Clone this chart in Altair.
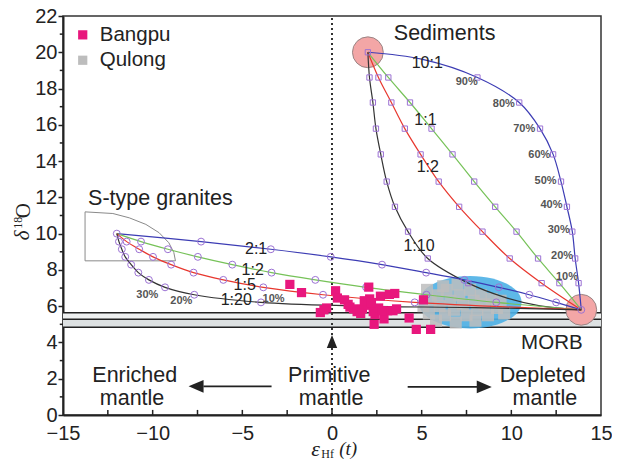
import altair as alt
import pandas as pd

# ---------------- values ----------------
sed_end = [2.0, 20.0]
morb_end = [13.9, 5.8]
sgran_end = [-12.0, 10.0]

# Sediment + MORB mixing (markers every 10 %, from 100 % sediment to 0 %)
sed_y = [20.0, 18.61, 17.23, 15.79, 14.37, 12.87, 11.48, 10.11, 8.63, 7.27, 5.8]
sed_x_10_1 = [2.0, 8.11, 10.44, 11.6, 12.33, 12.77, 13.1, 13.4, 13.56, 13.75, 13.9]
sed_x_1_1 = [2.0, 3.14, 4.35, 5.55, 6.72, 7.93, 9.1, 10.29, 11.49, 12.68, 13.9]
sed_x_1_2 = [2.0, 2.59, 3.31, 4.06, 4.94, 5.95, 7.09, 8.39, 9.91, 11.69, 13.9]
sed_x_1_10 = [2.0, 2.09, 2.28, 2.45, 2.72, 3.05, 3.51, 4.24, 5.34, 7.6, 13.9]

# S-type granite + MORB mixing
sg_y = [10.0, 9.56, 9.14, 8.72, 8.29, 7.85, 7.45, 7.04, 6.63, 6.21, 5.8]
sg_x_2_1 = [-12.0, -7.3, -3.41, -0.07, 2.79, 5.25, 7.38, 9.3, 11.0, 12.5, 13.9]
sg_x_1_2 = [-12.0, -10.65, -9.15, -7.48, -5.56, -3.37, -0.93, 1.9, 5.27, 9.16, 13.9]
sg_x_1_5 = [-12.0, -11.45, -10.75, -9.98, -8.97, -7.72, -6.06, -3.83, -0.5, 4.61, 13.9]
sg_x_1_20 = [-12.0, -11.88, -11.72, -11.53, -11.2, -10.8, -10.21, -9.31, -7.68, -3.96, 13.9]

# extra points read along curves between markers: (step, x, y)
extra_sed_10_1 = [(0.5, 5.0, 19.62)]
extra_sed_1_10 = [(9.35, 9.6, 6.5), (9.7, 11.6, 6.02)]
extra_sg_1_20 = [(9.4, 1.0, 6.02), (9.7, 8.0, 5.92)]

# S-type granite field outline
sfield_x = [-13.77, -13.77, -12.22, -11.3, -10.38, -9.64, -9.1, -8.82, -8.73, -13.77]
sfield_y = [8.5, 11.2, 11.11, 10.87, 10.51, 10.05, 9.5, 8.96, 8.5, 8.5]

# Bangpu samples
bangpu_x = [-2.35, -1.7, -0.65, -0.3, -0.45, 0.2, 0.3, 0.7, 0.9, 1.0, 1.2, 1.4, 1.7, 1.6,
            2.05, 2.1, 2.0, 2.3, 2.4, 2.35, 2.7, 2.6, 2.9, 3.2, 3.5, 3.1, 3.4, 3.6, 2.8,
            4.3, 4.7, 5.1, 5.5, 1.8, 2.2]
bangpu_y = [7.2, 6.75, 5.65, 5.9, 5.8, 6.85, 6.45, 6.35, 6.1, 5.95, 5.85, 5.7, 5.85, 5.6,
            7.05, 6.4, 6.05, 5.7, 5.55, 5.0, 6.55, 5.9, 5.3, 6.65, 6.7, 5.75, 5.75, 5.85, 5.75,
            5.35, 4.72, 6.35, 4.72, 6.3, 6.2]

# Qulong samples (grey cloud over the blue field)
qulong_x = [5.3, 5.5, 5.4, 5.8, 5.9, 6.0, 6.3, 6.4, 6.6, 6.8, 6.9, 7.1, 7.3, 7.5, 7.7,
            7.9, 8.1, 8.3, 8.5, 8.7, 8.9, 9.2, 9.4, 6.2, 7.0, 5.1, 8.0, 9.6]
qulong_y = [6.9, 6.3, 5.6, 5.2, 6.6, 6.0, 5.5, 6.9, 6.3, 5.8, 5.1, 6.6, 6.1, 5.5, 6.9,
            6.3, 5.8, 6.6, 6.1, 5.5, 6.4, 5.9, 6.3, 7.1, 7.2, 6.0, 5.2, 5.6]
qulong_field = [7.7, 6.22]

# MORB band
morb_band = [4.84, 5.28, 5.64]

# labels
sed_ratio_text = ["10:1", "1:1", "1:2", "1:10"]
sed_ratio_x = [5.31, 5.21, 5.34, 4.85]
sed_ratio_y = [19.43, 16.28, 13.69, 9.32]
sg_ratio_text = ["2:1", "1:2", "1:5", "1:20"]
sg_ratio_x = [-4.23, -4.42, -4.87, -5.34]
sg_ratio_y = [9.14, 8.01, 7.17, 6.32]
sed_pct_text = ["90%", "80%", "70%", "60%", "50%", "40%", "30%", "20%", "10%"]
sed_pct_x = [7.51, 9.58, 10.72, 11.56, 11.91, 12.24, 12.64, 12.83, 13.1]
sed_pct_y = [18.38, 17.16, 15.79, 14.33, 12.91, 11.56, 10.2, 8.78, 7.63]
sg_pct_text = ["30%", "20%", "10%"]
sg_pct_x = [-10.3, -8.4, -3.26]
sg_pct_y = [6.59, 6.26, 6.38]
big_text = ["Sediments", "S-type granites", "Enriched", "mantle",
            "Primitive", "mantle", "Depleted", "mantle"]
big_x = [6.28, -9.57, -11.0, -11.15, -0.15, -0.05, 11.75, 11.87]
big_y = [20.98, 11.91, 2.15, 0.89, 2.15, 0.89, 2.15, 0.89]
morb_text = ["MORB"]
morb_text_x = [12.26]
morb_text_y = [3.95]
legend_names = ["Bangpu", "Qulong"]
legend_x = [-13.9, -13.9]
legend_y = [20.96, 19.56]

x_ticks = [-15, -10, -5, 0, 5, 10, 15]
x_minor = [-12.5, -10, -7.5, -5, -2.5, 0, 2.5, 5, 7.5, 10, 12.5]
y_ticks = list(range(0, 23, 2))
y_minor = list(range(1, 22, 2))

# ---------------- build tables ----------------
def curve_df(xs_, ys_, extra=()):
    rows = [dict(x=a, y=b, o=float(i)) for i, (a, b) in enumerate(zip(xs_, ys_))]
    rows += [dict(x=a, y=b, o=s) for (s, a, b) in extra]
    return pd.DataFrame(rows)

BLUE, GREEN, RED, BLACK = "#3c3cb4", "#76c258", "#e8372e", "#333333"
curve_specs = [
    (sed_x_10_1, sed_y, extra_sed_10_1, BLUE),
    (sed_x_1_1, sed_y, (), GREEN),
    (sed_x_1_2, sed_y, (), RED),
    (sed_x_1_10, sed_y, extra_sed_1_10, BLACK),
    (sg_x_2_1, sg_y, (), BLUE),
    (sg_x_1_2, sg_y, (), GREEN),
    (sg_x_1_5, sg_y, (), RED),
    (sg_x_1_20, sg_y, extra_sg_1_20, BLACK),
]

sq_markers = pd.DataFrame(
    [dict(x=a, y=b) for xs_ in (sed_x_10_1, sed_x_1_1, sed_x_1_2, sed_x_1_10)
     for a, b in zip(xs_[1:-1], sed_y[1:-1])] + [dict(x=sed_end[0], y=sed_end[1])]
)
ci_markers = pd.DataFrame(
    [dict(x=a, y=b) for xs_ in (sg_x_2_1, sg_x_1_2, sg_x_1_5, sg_x_1_20)
     for a, b in zip(xs_[1:-1], sg_y[1:-1])]
    + [dict(x=sgran_end[0], y=sgran_end[1]), dict(x=morb_end[0], y=morb_end[1])]
)

xs = alt.Scale(domain=[-15, 15], nice=False, zero=False)
ys = alt.Scale(domain=[0, 22], nice=False, zero=False)
xaxis = alt.Axis(values=x_ticks, ticks=False, labelPadding=8, labelFontSize=20,
                 labelFont="Liberation Sans", labelColor="#222", domainColor="#222",
                 domainWidth=2, grid=False, title=None, labelFlush=False)
yaxis = alt.Axis(values=y_ticks, tickSize=5, labelPadding=1, labelFontSize=20,
                 labelFont="Liberation Sans", labelColor="#222", domainColor="#222",
                 domainWidth=2, tickColor="#222", tickWidth=1.5, grid=False, title=None,
                 labelFlush=False)
X = alt.X("x:Q", scale=xs, axis=xaxis)
Y = alt.Y("y:Q", scale=ys, axis=yaxis)

def base(df):
    return alt.Chart(pd.DataFrame(df))

layers = []

# MORB band
layers.append(base({"x": [-15], "x2": [15], "y": [morb_band[0]], "y2": [morb_band[1]]}).mark_rect(
    color="#dde1e2", strokeWidth=0).encode(x=X, x2="x2:Q", y=Y, y2="y2:Q"))
layers.append(base({"x": [-15], "x2": [15], "y": [morb_band[1]], "y2": [morb_band[2]]}).mark_rect(
    color="#eef0f0", strokeWidth=0).encode(x=X, x2="x2:Q", y=Y, y2="y2:Q"))
layers.append(base({"y": morb_band, "x": [-15] * 3, "x2": [15] * 3}).mark_rule(
    color="#222", strokeWidth=1.5).encode(x=X, x2="x2:Q", y=Y))

# dotted vertical (primitive mantle)
layers.append(base({"x": [0], "y": [0], "y2": [22]}).mark_rule(
    color="#333", strokeWidth=2, strokeDash=[2, 3]).encode(x=X, y=Y, y2="y2:Q"))

# Qulong field (blue)
ell = "M -1 0 A 1 0.51 0 1 1 1 0 A 1 0.51 0 1 1 -1 0 Z"
layers.append(base({"x": [qulong_field[0]], "y": [qulong_field[1]]}).mark_point(
    shape=ell, filled=True, fill="#4cb0e6", size=10600, opacity=0.9, strokeWidth=0).encode(x=X, y=Y))
layers.append(base({"x": qulong_x, "y": qulong_y}).mark_point(
    shape="square", filled=True, color="#bdbdbd", size=145, opacity=0.85).encode(x=X, y=Y))

# end-member circles
layers.append(base({"x": [sed_end[0], morb_end[0]], "y": [sed_end[1], morb_end[1]]}).mark_point(
    shape="circle", filled=True, fill="#f3a6a6", stroke="#9a8585", strokeWidth=1,
    size=950, opacity=1).encode(x=X, y=Y))

# S-type granite field
layers.append(base({"x": sfield_x, "y": sfield_y, "o": list(range(len(sfield_x)))}).mark_line(
    color="#8a8a8a", strokeWidth=1).encode(x=X, y=Y, order="o:Q"))

# mixing curves
for cx, cy, extra, col in curve_specs:
    layers.append(alt.Chart(curve_df(cx, cy, extra)).mark_line(
        strokeWidth=1.2, interpolate="catmull-rom", color=col).encode(x=X, y=Y, order="o:Q"))

# markers
layers.append(alt.Chart(sq_markers).mark_point(
    shape="square", filled=False, color="#9c72d4", size=28, strokeWidth=1, opacity=1).encode(x=X, y=Y))
layers.append(alt.Chart(ci_markers).mark_point(
    shape="circle", filled=False, color="#9c72d4", size=48, strokeWidth=1, opacity=1).encode(x=X, y=Y))

# Bangpu
layers.append(base({"x": bangpu_x, "y": bangpu_y}).mark_point(
    shape="square", filled=True, color="#e8177d", size=85, opacity=1).encode(x=X, y=Y))

# arrows
layers.append(base({"x": [-7.17, 4.22], "x2": [-3.37, 8.23], "y": [1.58, 1.55]}).mark_rule(
    color="#222", strokeWidth=1.6).encode(x=X, x2="x2:Q", y=Y))
left_head = "M -1 0 L 1 -0.85 L 1 0.85 Z"
right_head = "M 1 0 L -1 -0.85 L -1 0.85 Z"
up_head = "M 0 -1 L -0.8 1 L 0.8 1 Z"
layers.append(base({"x": [-7.58], "y": [1.58]}).mark_point(
    shape=left_head, filled=True, color="#222", size=225, opacity=1).encode(x=X, y=Y))
layers.append(base({"x": [8.49], "y": [1.55]}).mark_point(
    shape=right_head, filled=True, color="#222", size=225, opacity=1).encode(x=X, y=Y))
layers.append(base({"x": [0], "y": [4.05]}).mark_point(
    shape=up_head, filled=True, color="#222", size=169, opacity=1).encode(x=X, y=Y))

# legend
layers.append(base({"x": legend_x[:1], "y": legend_y[:1]}).mark_point(
    shape="square", filled=True, size=85, opacity=1, color="#e8177d").encode(x=X, y=Y))
layers.append(base({"x": legend_x[1:], "y": legend_y[1:]}).mark_point(
    shape="square", filled=True, size=85, opacity=1, color="#bdbdbd").encode(x=X, y=Y))
layers.append(base({"x": [-12.95, -12.95], "y": legend_y, "t": legend_names}).mark_text(
    align="left", baseline="middle", font="Liberation Sans", fontSize=20.5, color="#222").encode(
    x=X, y=Y, text="t:N"))

# texts
layers.append(base({"x": big_x, "y": big_y, "t": big_text}).mark_text(
    align="center", baseline="middle", font="Liberation Sans", fontSize=21.5, color="#222").encode(
    x=X, y=Y, text="t:N"))
layers.append(base({"x": morb_text_x, "y": morb_text_y, "t": morb_text}).mark_text(
    align="center", baseline="middle", font="Liberation Sans", fontSize=20.5, color="#222").encode(
    x=X, y=Y, text="t:N"))
layers.append(base({"x": sed_ratio_x + sg_ratio_x, "y": sed_ratio_y + sg_ratio_y,
                    "t": sed_ratio_text + sg_ratio_text}).mark_text(
    align="center", baseline="middle", font="Liberation Sans", fontSize=16, color="#222").encode(
    x=X, y=Y, text="t:N"))
layers.append(base({"x": sed_pct_x + sg_pct_x, "y": sed_pct_y + sg_pct_y,
                    "t": sed_pct_text + sg_pct_text}).mark_text(
    align="center", baseline="middle", font="Liberation Sans", fontSize=11, fontWeight="bold",
    color="#555").encode(x=X, y=Y, text="t:N"))

# axis ticks (x inward, y minor outward)
layers.append(base({"x": x_minor, "y": [0] * len(x_minor), "y2": [0.28] * len(x_minor)}).mark_rule(
    color="#222", strokeWidth=1.5).encode(x=X, y=Y, y2="y2:Q"))
layers.append(base({"y": y_minor, "x": [-15.18] * len(y_minor), "x2": [-15] * len(y_minor)}).mark_rule(
    color="#222", strokeWidth=1.5).encode(x=X, x2="x2:Q", y=Y))

# axis titles
layers.append(base({"x": [-17.24], "y": [9.91], "t": ["δ"]}).mark_text(
    angle=270, align="center", baseline="middle", font="Liberation Serif", fontSize=21,
    fontStyle="italic", color="#222").encode(x=X, y=Y, text="t:N"))
layers.append(base({"x": [-17.5], "y": [10.6], "t": ["18"]}).mark_text(
    angle=270, align="center", baseline="middle", font="Liberation Serif", fontSize=12,
    color="#222").encode(x=X, y=Y, text="t:N"))
layers.append(base({"x": [-17.2], "y": [11.27], "t": ["O"]}).mark_text(
    angle=270, align="center", baseline="middle", font="Liberation Serif", fontSize=21,
    color="#222").encode(x=X, y=Y, text="t:N"))
layers.append(base({"x": [-1.16], "y": [-1.85], "t": ["ε"]}).mark_text(
    align="left", baseline="middle", font="Liberation Serif", fontSize=22, fontStyle="italic",
    color="#222").encode(x=X, y=Y, text="t:N"))
layers.append(base({"x": [-0.6], "y": [-2.15], "t": ["Hf"]}).mark_text(
    align="left", baseline="middle", font="Liberation Serif", fontSize=12,
    color="#222").encode(x=X, y=Y, text="t:N"))
layers.append(base({"x": [0.4], "y": [-1.9], "t": ["(t)"]}).mark_text(
    align="left", baseline="middle", font="Liberation Serif", fontSize=19, fontStyle="italic",
    color="#222").encode(x=X, y=Y, text="t:N"))

chart = alt.layer(*layers).properties(
    width=538, height=399,
    autosize=alt.AutoSizeParams(type="none"),
    padding={"left": 55, "top": 8, "right": 11, "bottom": 46},
    background="white",
).configure_view(stroke="#333", strokeWidth=1.5)

chart.save("out.html", embed_options={"renderer": "svg", "actions": False})
